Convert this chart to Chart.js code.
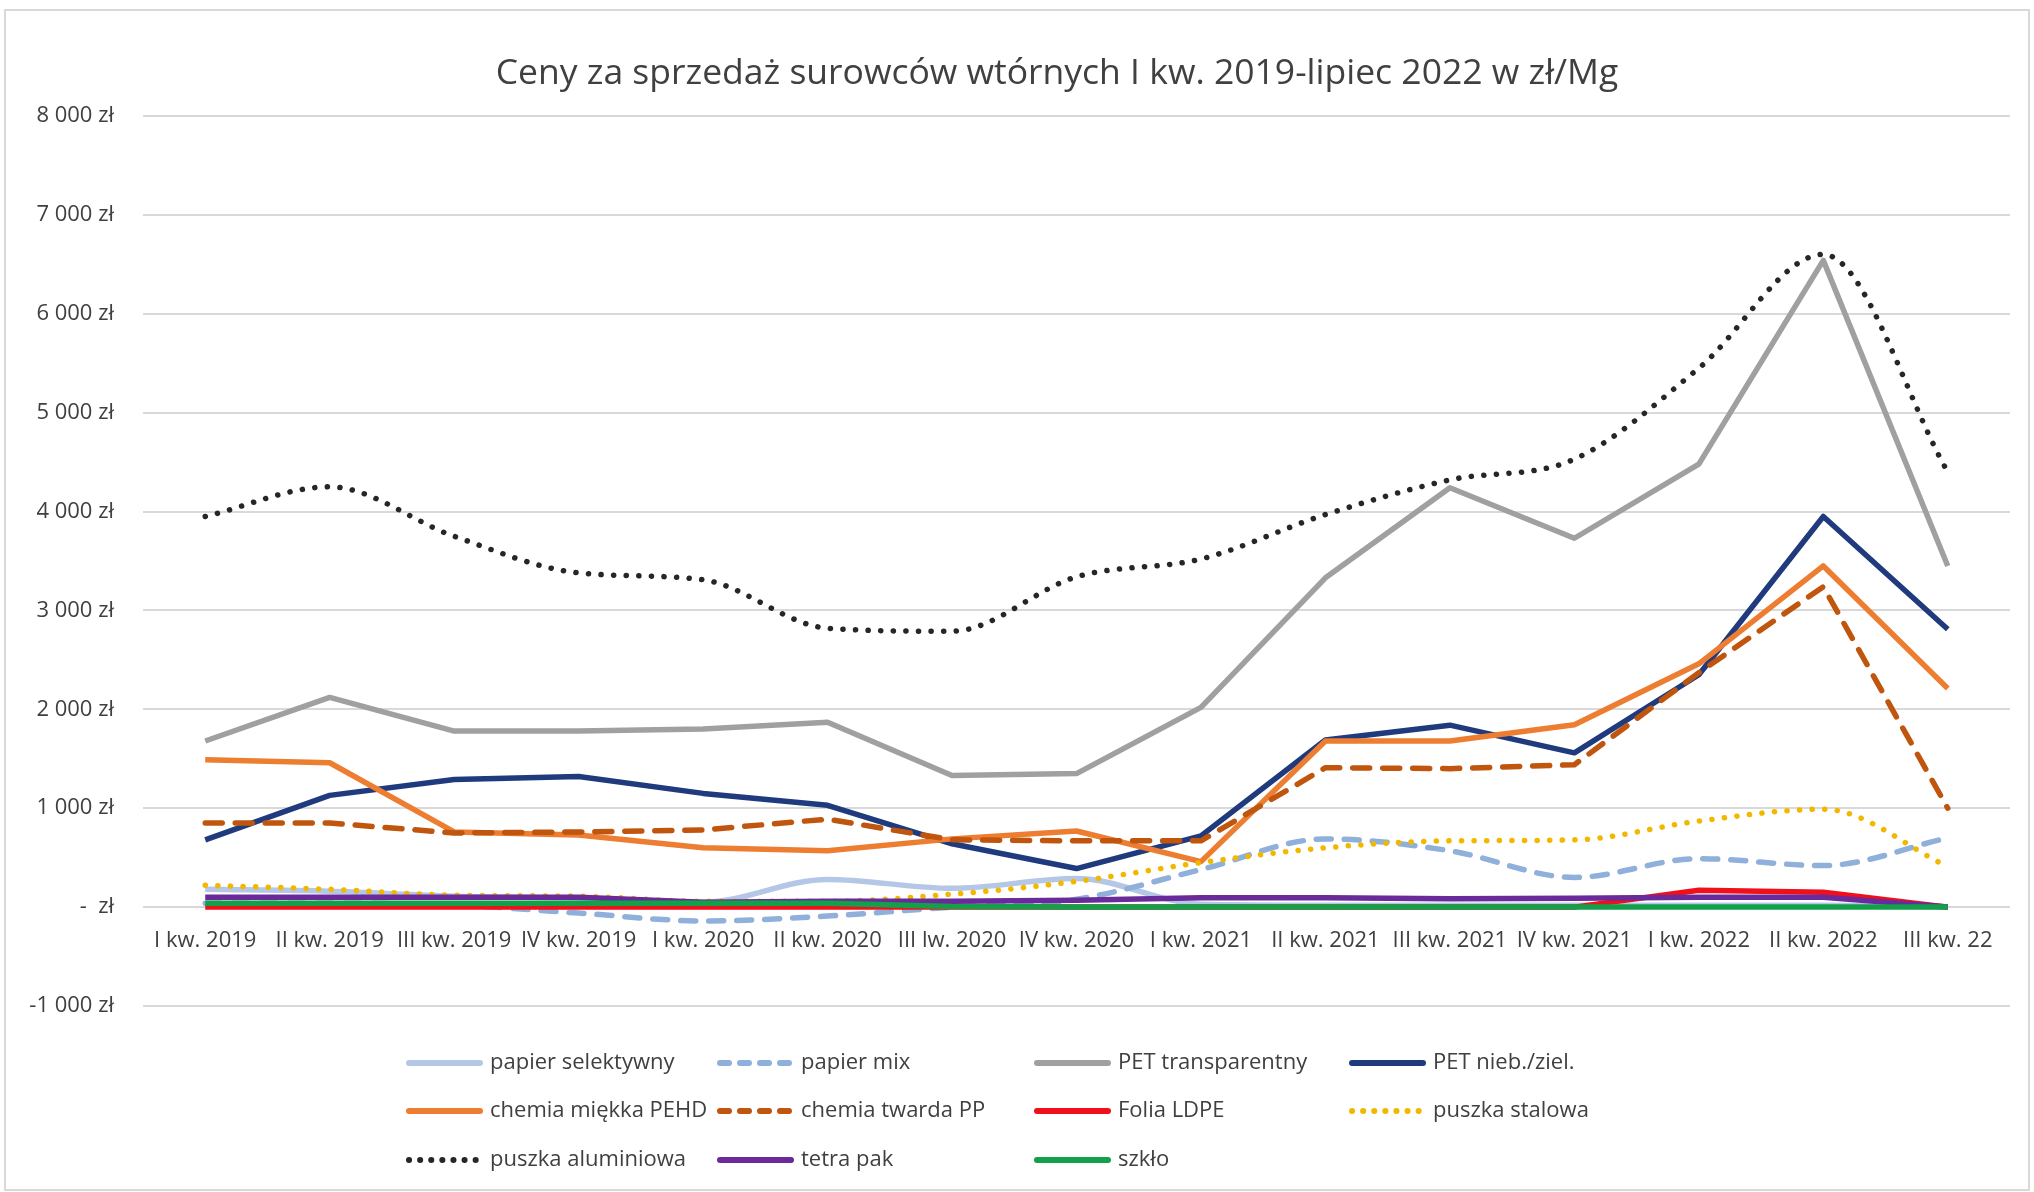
<!DOCTYPE html>
<html>
<head>
<meta charset="utf-8">
<script src="https://cdn.jsdelivr.net/npm/chart.js@4.4.1/dist/chart.umd.min.js"></script>
<style>
html, body { margin: 0; padding: 0; background: #fff; }
</style>
</head>
<body>
<canvas id="chart" width="2034" height="1192"></canvas>
<script>
// kwartały
var categories = ['I kw. 2019', 'II kw. 2019', 'III kw. 2019', 'IV kw. 2019', 'I kw. 2020', 'II kw. 2020', 'III lw. 2020',
    'IV kw. 2020', 'I kw. 2021', 'II kw. 2021', 'III kw. 2021', 'IV kw. 2021', 'I kw. 2022', 'II kw. 2022', 'III kw. 22'];

// ceny w zł/Mg
var papierSelektywny = [180, 160, 110, 90, 50, 280, 190, 290, 30, 20, 20, 20, 20, 20, 0];
var papierMix = [40, 40, 20, -60, -140, -90, 0, 80, 380, 690, 570, 300, 490, 420, 700];
var petTransparentny = [1680, 2120, 1780, 1780, 1800, 1870, 1330, 1350, 2020, 3330, 4240, 3730, 4480, 6540, 3450];
var petNiebZiel = [680, 1130, 1290, 1320, 1150, 1030, 640, 390, 720, 1690, 1840, 1560, 2350, 3950, 2810];
var chemiaMiekka = [1490, 1460, 760, 730, 600, 570, 690, 770, 460, 1680, 1680, 1845, 2460, 3450, 2210];
var chemiaTwarda = [850, 850, 750, 760, 780, 890, 680, 670, 670, 1410, 1400, 1440, 2370, 3240, 1000];
var foliaLDPE = [0, 0, 0, 0, 0, 0, 0, 0, 0, 0, 0, 0, 170, 150, 0];
var puszkaStalowa = [220, 180, 120, 110, 60, 60, 130, 260, 450, 600, 670, 680, 870, 990, 410];
var puszkaAluminiowa = [3950, 4250, 3750, 3380, 3310, 2820, 2790, 3340, 3520, 3970, 4320, 4530, 5450, 6600, 4400];
var tetraPak = [100, 100, 100, 100, 50, 60, 60, 70, 95, 95, 85, 90, 100, 100, 0];
var szklo = [40, 40, 40, 40, 40, 40, 5, 0, 0, 0, 0, 0, 0, 0, 0];

var yMin = -1000, yMax = 8000, yStep = 1000;

var TITLE = 'Ceny za sprzedaż surowców wtórnych I kw. 2019-lipiec 2022 w zł/Mg';
var FONT = "'Open Sans', 'Noto Sans', sans-serif";
var TEXT = '#404040';
var DOT = [0.1, 12.5];

function series(label, data, color, dash, smooth) {
    return {
        label: label,
        data: data,
        borderColor: color,
        backgroundColor: color,
        borderWidth: 5.5,
        borderDash: dash || [],
        borderCapStyle: dash ? 'round' : 'butt',
        borderJoinStyle: 'round',
        cubicInterpolationMode: smooth ? 'monotone' : 'default',
        tension: smooth ? 0.4 : 0,
        pointRadius: 0,
        pointHoverRadius: 0,
        fill: false
    };
}

var datasets = [
    series('papier selektywny', papierSelektywny, '#B4C7E7', null, true),
    series('papier mix', papierMix, '#8FB0DA', [15, 13], true),
    series('PET transparentny', petTransparentny, '#A0A0A0'),
    series('PET nieb./ziel.', petNiebZiel, '#1F3A7D'),
    series('chemia miękka PEHD', chemiaMiekka, '#ED7D31'),
    series('chemia twarda PP', chemiaTwarda, '#C0550E', [17, 13]),
    series('Folia LDPE', foliaLDPE, '#F0101A'),
    series('puszka stalowa', puszkaStalowa, '#F2B800', DOT, true),
    series('puszka aluminiowa', puszkaAluminiowa, '#262626', DOT, true),
    series('tetra pak', tetraPak, '#6A2A9A'),
    series('szkło', szklo, '#13A04A')
];
// późniejsze serie rysowane na wierzchu, jak w Excelu
datasets.forEach(function (ds, i) { ds.order = datasets.length - i; });

function formatZl(v) {
    if (v === 0) return '-  zł';
    var s = Math.abs(v).toString().replace(/\B(?=(\d{3})+(?!\d))/g, ' ');
    return (v < 0 ? '-' : '') + s + ' zł';
}

// ramka + tytuł (tytuł przesunięty w prawo jak w Excelu)
var frame = {
    id: 'frame',
    beforeDraw: function (chart) {
        var c = chart.ctx;
        c.save();
        c.fillStyle = '#fff';
        c.fillRect(0, 0, chart.width, chart.height);
        c.strokeStyle = '#D9D9D9';
        c.lineWidth = 2;
        c.strokeRect(5, 10, 2024, 1180);
        c.fillStyle = TEXT;
        c.font = '35.5px ' + FONT;
        c.textAlign = 'center';
        c.textBaseline = 'middle';
        c.fillText(TITLE, 1057, 74);
        c.restore();
    }
};

// legenda w siatce 4 kolumn
var gridLegend = {
    id: 'gridLegend',
    afterDraw: function (chart) {
        var c = chart.ctx;
        var cols = [406, 717, 1034, 1349];
        var rows = [1063, 1111, 1160];
        c.save();
        c.font = '22px ' + FONT;
        c.textBaseline = 'middle';
        c.fillStyle = TEXT;
        chart.data.datasets.forEach(function (ds, i) {
            var x = cols[i % 4], y = rows[Math.floor(i / 4)];
            c.beginPath();
            c.strokeStyle = ds.borderColor;
            c.lineWidth = 6;
            c.lineCap = 'round';
            c.setLineDash(ds.borderDash.length ? (ds.borderDash === DOT ? [0.1, 11] : [9, 11]) : []);
            c.moveTo(x + 3, y);
            c.lineTo(x + 74, y);
            c.stroke();
            c.setLineDash([]);
            c.fillText(ds.label, x + 84, y);
        });
        c.restore();
    }
};

var chart = new Chart(document.getElementById('chart'), {
    type: 'line',
    data: { labels: categories, datasets: datasets },
    options: {
        responsive: false,
        animation: false,
        layout: { padding: { left: 0, right: 24, top: 116, bottom: 186 } },
        plugins: {
            legend: { display: false },
            tooltip: { enabled: false },
            title: { display: false }
        },
        scales: {
            x: {
                position: { y: 0 },
                offset: true,
                grid: { display: false, drawTicks: false },
                border: { display: false },
                ticks: {
                    color: TEXT,
                    font: { family: FONT, size: 22 },
                    padding: 20,
                    maxRotation: 0,
                    autoSkip: false
                }
            },
            y: {
                min: yMin,
                max: yMax,
                grid: { color: '#D9D9D9', lineWidth: 2, drawTicks: false },
                border: { display: false },
                ticks: {
                    stepSize: yStep,
                    color: TEXT,
                    font: { family: FONT, size: 22 },
                    padding: 29,
                    callback: formatZl
                },
                afterFit: function (scale) { scale.width = 143; }
            }
        }
    },
    plugins: [frame, gridLegend]
});
</script>
</body>
</html>
